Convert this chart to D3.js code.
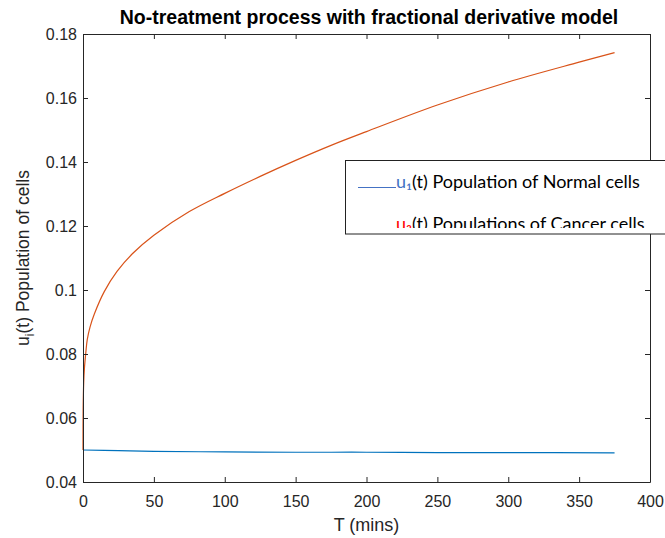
<!DOCTYPE html>
<html>
<head>
<meta charset="utf-8">
<script src="https://cdn.jsdelivr.net/npm/d3@7"></script>
<style>
  body { margin: 0; background: #fff; }
  svg { display: block; font-family: "Liberation Sans", Arial, sans-serif; }
</style>
</head>
<body>
<svg id="chart" width="665" height="538"></svg>
<script>
// data
const tNormal = [0, 25, 50, 100, 150, 200, 250, 300, 375];
const uNormal = [0.0500, 0.0498, 0.0496, 0.0494, 0.0493, 0.0493, 0.0492, 0.0492, 0.0491];
const tCancer = [0, 0.1, 0.5, 1, 2, 3, 5, 8, 15, 24, 35, 50, 75, 100, 125, 150, 175, 200, 250, 300, 350, 375];
const uCancer = [0.050, 0.063, 0.071, 0.0755, 0.0805, 0.0845, 0.0885, 0.0925, 0.0995, 0.1058, 0.1114, 0.1171, 0.1245, 0.1302, 0.1355, 0.1405, 0.1452, 0.1495, 0.1578, 0.1650, 0.1712, 0.1742];
const xTicks = [0, 50, 100, 150, 200, 250, 300, 350, 400];
const yTicks = [0.04, 0.06, 0.08, 0.1, 0.12, 0.14, 0.16, 0.18];

const margin = {top: 34, right: 15, bottom: 56, left: 83};
const width = 650 - margin.left;
const height = 482 - margin.top;
const axisColor = "#262626";

var svg = d3.select("#chart");

var x = d3.scaleLinear().domain([0, 400]).range([0, width]);
var y = d3.scaleLinear().domain([0.04, 0.18]).range([height, 0]);

var g = svg.append("g").attr("transform", "translate(" + margin.left + "," + margin.top + ")");

//lines
var line = d3.line().x(d => x(d[0])).y(d => y(d[1])).curve(d3.curveCatmullRom.alpha(0.5));
g.append("path")
  .datum(d3.zip(tCancer, uCancer))
  .attr("fill", "none").attr("stroke", "#D95319").attr("stroke-width", 1.2)
  .attr("d", line);
g.append("path")
  .datum(d3.zip(tNormal, uNormal))
  .attr("fill", "none").attr("stroke", "#0072BD").attr("stroke-width", 1.2)
  .attr("d", line);

//axes, matlab style box with inward ticks
function styleAxis(sel) {
  sel.selectAll(".domain").attr("stroke", axisColor);
  sel.selectAll(".tick line").attr("stroke", axisColor);
  sel.selectAll("text").attr("fill", axisColor).attr("font-size", 16)
    .attr("font-family", "Liberation Sans, Arial, sans-serif");
}
g.append("g").attr("transform", "translate(0," + height + ")")
  .call(d3.axisBottom(x).tickValues(xTicks).tickSizeInner(-5).tickSizeOuter(0).tickPadding(14))
  .call(styleAxis);
g.append("g")
  .call(d3.axisLeft(y).tickValues(yTicks).tickFormat(d3.format("")).tickSizeInner(-5).tickSizeOuter(0).tickPadding(6))
  .call(styleAxis);
g.append("g")
  .call(d3.axisTop(x).tickValues(xTicks).tickSizeInner(-5).tickSizeOuter(0).tickFormat(""))
  .call(styleAxis);
g.append("g").attr("transform", "translate(" + width + ",0)")
  .call(d3.axisRight(y).tickValues(yTicks).tickSizeInner(-5).tickSizeOuter(0).tickFormat(""))
  .call(styleAxis);

//titles
svg.append("text")
  .attr("x", 369).attr("y", 24)
  .attr("text-anchor", "middle").attr("font-weight", "bold").attr("font-size", 19.5)
  .attr("fill", "#000")
  .text("No-treatment process with fractional derivative model");

svg.append("text")
  .attr("x", margin.left + width / 2).attr("y", 531)
  .attr("text-anchor", "middle").attr("font-size", 18).attr("fill", axisColor)
  .text("T (mins)");

var yl = svg.append("text")
  .attr("transform", "translate(29," + (margin.top + height / 2) + ") rotate(-90)")
  .attr("text-anchor", "middle").attr("font-size", 17.5).attr("fill", axisColor);
yl.append("tspan").text("u");
yl.append("tspan").attr("font-size", 12).attr("dy", 5).text("i");
yl.append("tspan").attr("dy", -5).text("(t) Population of cells");

//legend (clipped like the source)
svg.append("clipPath").attr("id", "legclip")
  .append("rect").attr("x", 345).attr("y", 160).attr("width", 330).attr("height", 75);
svg.append("clipPath").attr("id", "textclip")
  .append("rect").attr("x", 345).attr("y", 160).attr("width", 330).attr("height", 68);
var leg = svg.append("g").attr("clip-path", "url(#legclip)");
leg.append("rect")
  .attr("x", 345.5).attr("y", 160.5).attr("width", 330).attr("height", 73.5)
  .attr("fill", "#fff").attr("stroke", "#222").attr("stroke-width", 1);
leg.append("line")
  .attr("x1", 358).attr("x2", 396).attr("y1", 187.5).attr("y2", 187.5)
  .attr("stroke", "#4472C4").attr("stroke-width", 1);

const legFont = "Lato, 'Open Sans', sans-serif";
var lt = leg.append("g").attr("clip-path", "url(#textclip)");
var t1 = lt.append("text").attr("x", 396).attr("y", 188)
  .attr("font-family", legFont).attr("font-size", 18).attr("fill", "#000");
t1.append("tspan").attr("fill", "#4472C4").text("u₁");
t1.append("tspan").text("(t) Population of Normal cells");
var t2 = lt.append("text").attr("x", 396).attr("y", 230)
  .attr("font-family", legFont).attr("font-size", 18).attr("fill", "#000");
t2.append("tspan").attr("fill", "#FF0000").text("u₂");
t2.append("tspan").text("(t) Populations of Cancer cells");
</script>
</body>
</html>
